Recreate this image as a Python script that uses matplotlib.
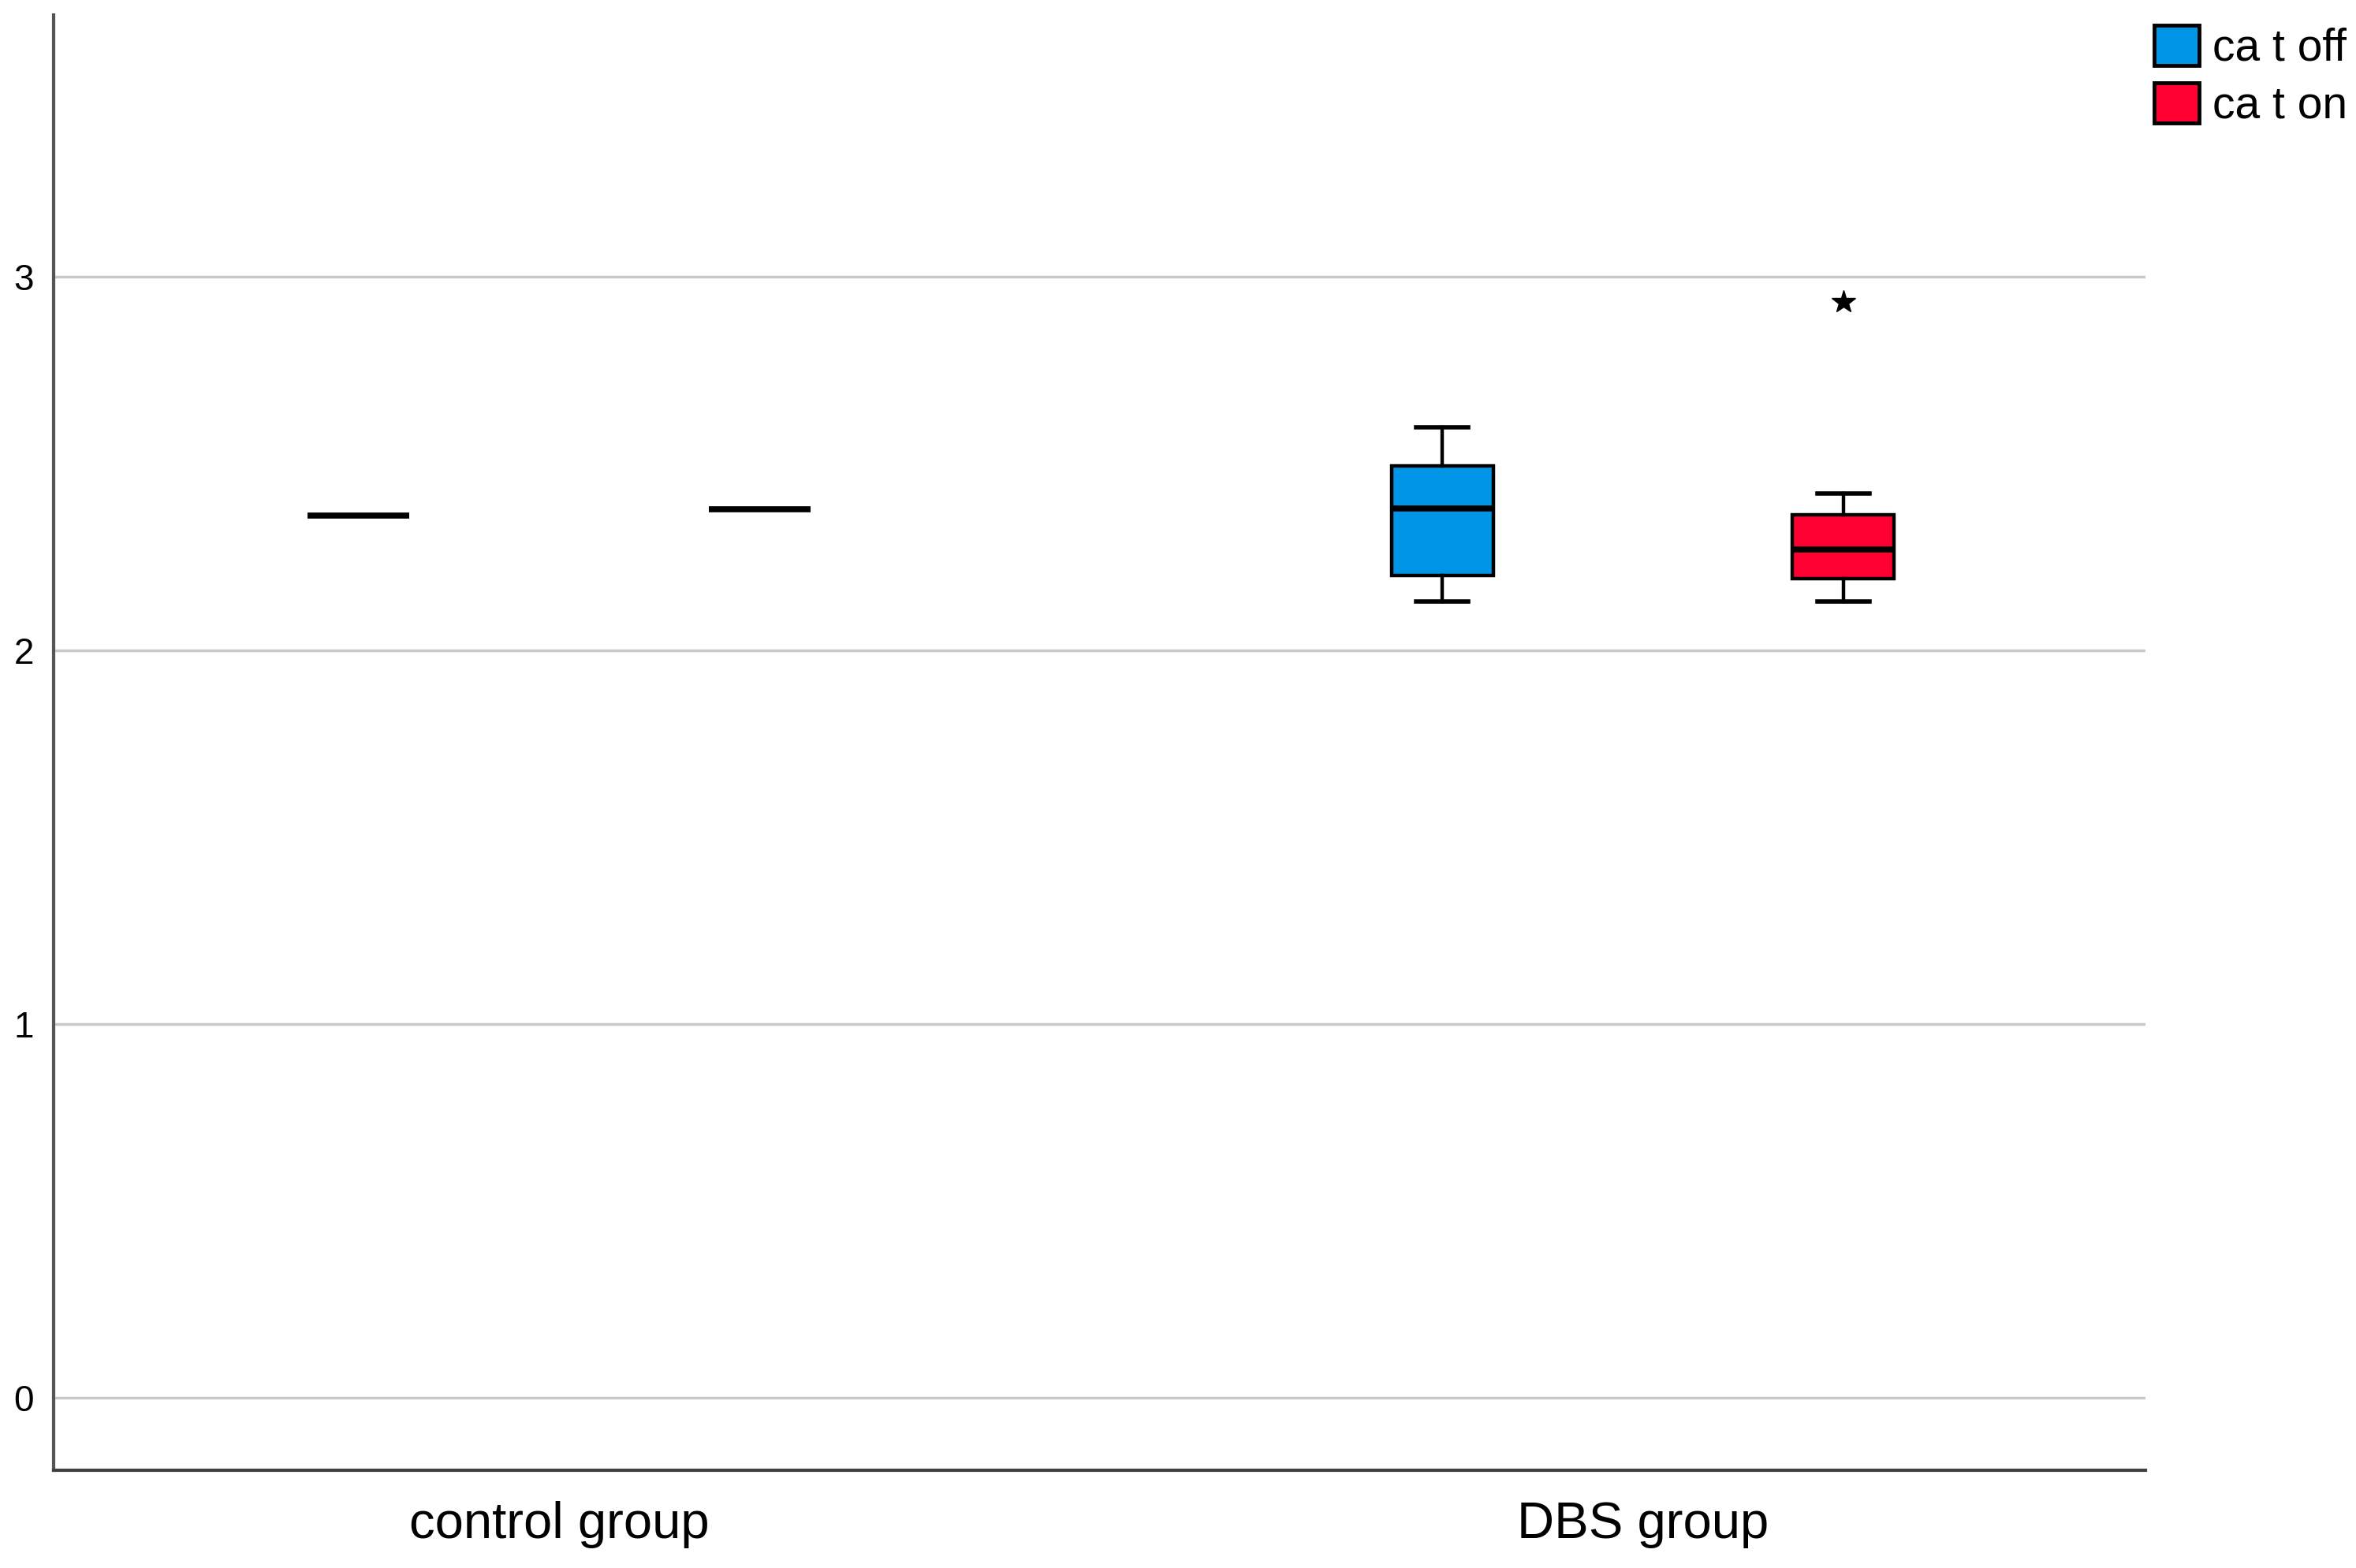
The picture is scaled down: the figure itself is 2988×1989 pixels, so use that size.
import matplotlib
matplotlib.use('Agg')
import matplotlib.pyplot as plt
from matplotlib.patches import Patch

# data
groups = ['control group', 'DBS group']
conditions = ['ca t off', 'ca t on']
colors = ['#0095e6', '#ff0033']

# per group, per condition
medians = [[2.360, 2.378], [2.380, 2.270]]
q1 = [[2.360, 2.378], [2.200, 2.191]]
q3 = [[2.360, 2.378], [2.492, 2.362]]
whislo = [[2.360, 2.378], [2.131, 2.131]]
whishi = [[2.360, 2.378], [2.597, 2.420]]
fliers = [[[], []], [[], [2.931]]]

plt.rcParams['font.family'] = ['Liberation Sans', 'DejaVu Sans']

fig = plt.figure(figsize=(29.88, 19.89), dpi=100)
ax = fig.add_axes([68/2988, 1 - 1865/1989, (2721 - 68)/2988, (1865 - 19)/1989])

offset = 0.185
for g in range(len(groups)):
    for c in range(len(conditions)):
        st = dict(med=medians[g][c], q1=q1[g][c], q3=q3[g][c],
                  whislo=whislo[g][c], whishi=whishi[g][c], fliers=fliers[g][c])
        pos = g + (-offset if c == 0 else offset)
        ax.bxp([st], positions=[pos], widths=0.094, capwidths=0.048,
               patch_artist=True, showfliers=True,
               boxprops=dict(facecolor=colors[c], edgecolor='black', linewidth=3.2),
               medianprops=dict(color='black', linewidth=5.5),
               whiskerprops=dict(color='black', linewidth=3.2),
               capprops=dict(color='black', linewidth=4),
               flierprops=dict(marker='*', markerfacecolor='black',
                               markeredgecolor='black', markersize=22))

ax.set_xlim(-0.4665, 1.464)
ax.set_ylim(-0.193, 3.699)
ax.set_xticks([0, 1])
ax.set_xticklabels(groups, fontsize=47)
ax.set_yticks([0, 1, 2, 3])
ax.set_yticklabels(['0', '1', '2', '3'], fontsize=33)
ax.tick_params(axis='both', length=0)
ax.tick_params(axis='y', pad=18)
ax.tick_params(axis='x', pad=28)

ax.yaxis.grid(True, color='#c8c8c8', linewidth=2.5)
ax.set_axisbelow(True)
for s in ['top', 'right']:
    ax.spines[s].set_visible(False)
ax.spines['left'].set_color('#555555')
ax.spines['left'].set_linewidth(3)
ax.spines['bottom'].set_color('#404040')
ax.spines['bottom'].set_linewidth(3)

handles = [Patch(facecolor=colors[i], edgecolor='black', linewidth=3.5) for i in range(len(conditions))]
fig.legend(handles, conditions, loc='upper left',
           bbox_to_anchor=(2732/2988, 1 - 32/1989), frameon=False,
           fontsize=41, handlelength=1.0, handleheight=1.0,
           handletextpad=0.3, labelspacing=0.28, borderpad=0, borderaxespad=0)

fig.savefig('out.png', dpi=100)
